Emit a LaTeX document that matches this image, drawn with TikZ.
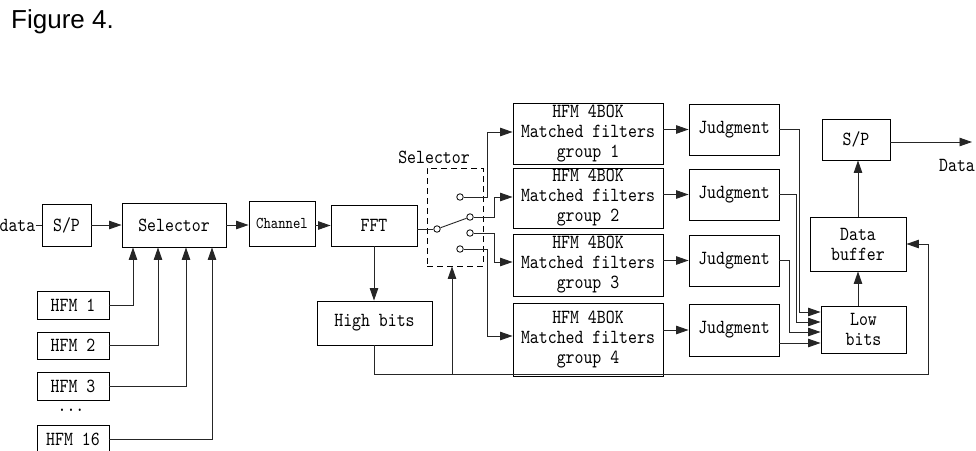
\documentclass[tikz,border=0pt]{standalone}
\usepackage{fontspec}
\newfontfamily\figfont{Liberation Sans}
\newfontfamily\dfont{lmmono10-regular}[Extension=.otf, FakeStretch=0.85]
\usetikzlibrary{arrows.meta}
\begin{document}
\begin{tikzpicture}[x=1pt,y=-1pt,
  every node/.style={font=\dfont\fontsize{20}{20}\selectfont, inner sep=0pt},
  blk/.style={draw=black, line width=0.9pt, align=center},
  conn/.style={draw=black!85, line width=0.9pt},
  arr/.style={conn, -{Triangle[length=12.5pt,width=8.5pt]}},
  pin/.style={circle, draw=black, line width=0.8pt, fill=white, minimum size=6.5pt}]
\useasboundingbox (0,0) rectangle (976,450);
\node[anchor=west, font=\figfont\fontsize{26}{30}\selectfont] (fig) at (11,22) {Figure 4.};
% left chain
\node[anchor=east] (data) at (35.5,225) {data};
\node[blk, minimum width=49pt, minimum height=42pt] (sp1) at (66.5,225) {S/P};
\node[blk, minimum width=104pt, minimum height=44pt] (sel) at (174,225) {Selector};
\node[blk, minimum width=66pt, minimum height=45pt, font=\dfont\fontsize{16.5}{18}\selectfont] (chan) at (282,223.5) {Channel};
\node[blk, minimum width=86pt, minimum height=41pt] (fft) at (374,225.5) {FFT};
\node[blk, minimum width=115pt, minimum height=44pt] (high) at (374.5,323) {High bits};
\node[blk, minimum width=72pt, minimum height=28pt] (h1) at (73,305) {HFM 1};
\node[blk, minimum width=72pt, minimum height=27pt] (h2) at (73,345.5) {HFM 2};
\node[blk, minimum width=72pt, minimum height=28pt] (h3) at (73,386) {HFM 3};
\node (dots) at (71,410) {...};
\node[blk, minimum width=72pt, minimum height=28pt] (h16) at (73,439) {HFM 16};
% selector switch
\node[draw=black, line width=0.9pt, minimum width=56pt, minimum height=98pt, dash pattern=on 6pt off 4pt] (sw) at (455,217) {};
\node (swl) at (434,157) {Selector};
\node[pin] (c0) at (437,229) {};
\node[pin] (c1) at (460,197) {};
\node[pin] (c2) at (470,217) {};
\node[pin] (c3) at (470,233) {};
\node[pin] (c4) at (460,249) {};
% matched filter groups
\node[blk, minimum width=150pt, minimum height=61pt] (g1) at (588,133.5) {HFM 4BOK\\Matched filters\\group 1};
\node[blk, minimum width=150pt, minimum height=60pt] (g2) at (588,198) {HFM 4BOK\\Matched filters\\group 2};
\node[blk, minimum width=150pt, minimum height=62pt] (g3) at (588,265) {HFM 4BOK\\Matched filters\\group 3};
\node[blk, minimum width=150pt, minimum height=73pt] (g4) at (588,339.5) {HFM 4BOK\\Matched filters\\group 4};
\node[blk, minimum width=90pt, minimum height=51pt] (j1) at (734,129.5) {Judgment};
\node[blk, minimum width=90pt, minimum height=51pt] (j2) at (734,194.5) {Judgment};
\node[blk, minimum width=90pt, minimum height=51pt] (j3) at (734,260.5) {Judgment};
\node[blk, minimum width=90pt, minimum height=52pt] (j4) at (734,330) {Judgment};
% right side
\node[blk, minimum width=68pt, minimum height=41pt] (sp2) at (856,139.5) {S/P};
\node[blk, minimum width=96pt, minimum height=54pt] (buf) at (858,244) {Data\\buffer};
\node[blk, minimum width=85pt, minimum height=47pt] (low) at (863.5,329.5) {Low\\bits};
\node (dout) at (957,165) {Data};
\coordinate (outend) at (972,142);
\coordinate (fb) at (452,374);
% connectors
\draw[conn] (data.east) -- (sp1.west);
\draw[arr] (sp1.east) -- (sp1.east -| sel.west);
\draw[arr] (sel.east) -- (sel.east -| chan.west);
\draw[arr] (chan.east |- fft.west) -- (fft.west);
\draw[arr] (h1.east) -| ([xshift=-41pt]sel.south);
\draw[arr] (h2.east) -| ([xshift=-16pt]sel.south);
\draw[arr] (h3.east) -| ([xshift=12pt]sel.south);
\draw[arr] (h16.east) -| ([xshift=38pt]sel.south);
\draw[arr] (fft.south) -- (fft.south |- high.north);
\draw[arr] (high.south) |- (928,374) |- (buf.east);
\draw[arr] (fb) -- (fb |- sw.south);
\draw[conn] (fft.east |- c0) -- (c0);
\draw[conn] (c0) -- (c2);
\draw[arr] (c1) -- (487,197) |- ([yshift=1.5pt]g1.west);
\draw[arr] (c2) -- (494,217) |- ([yshift=1pt]g2.west);
\draw[arr] (c3) -- (494,233) |- ([yshift=3pt]g3.west);
\draw[arr] (c4) -- (487,249) |- ([yshift=3.5pt]g4.west);
\draw[arr] (g1.east |- j1.west) -- (j1.west);
\draw[arr] (g2.east |- j2.west) -- (j2.west);
\draw[arr] (g3.east |- j3.west) -- (j3.west);
\draw[arr] (g4.east |- j4.west) -- (j4.west);
\draw[arr] (j1.east) -- (799,129.5) |- ([yshift=17.5pt]low.west);
\draw[arr] (j2.east) -- (796,194.5) |- ([yshift=7.5pt]low.west);
\draw[arr] (j3.east) -- (789,260.5) |- ([yshift=-2.5pt]low.west);
\draw[arr] ([yshift=-13.5pt]low.west -| j4.east) -- ([yshift=-13.5pt]low.west);
\draw[arr] (buf.south |- low.north) -- (buf.south);
\draw[arr] (buf.north) -- (buf.north |- sp2.south);
\draw[arr] (sp2.east |- outend) -- (outend);
\end{tikzpicture}
\end{document}
